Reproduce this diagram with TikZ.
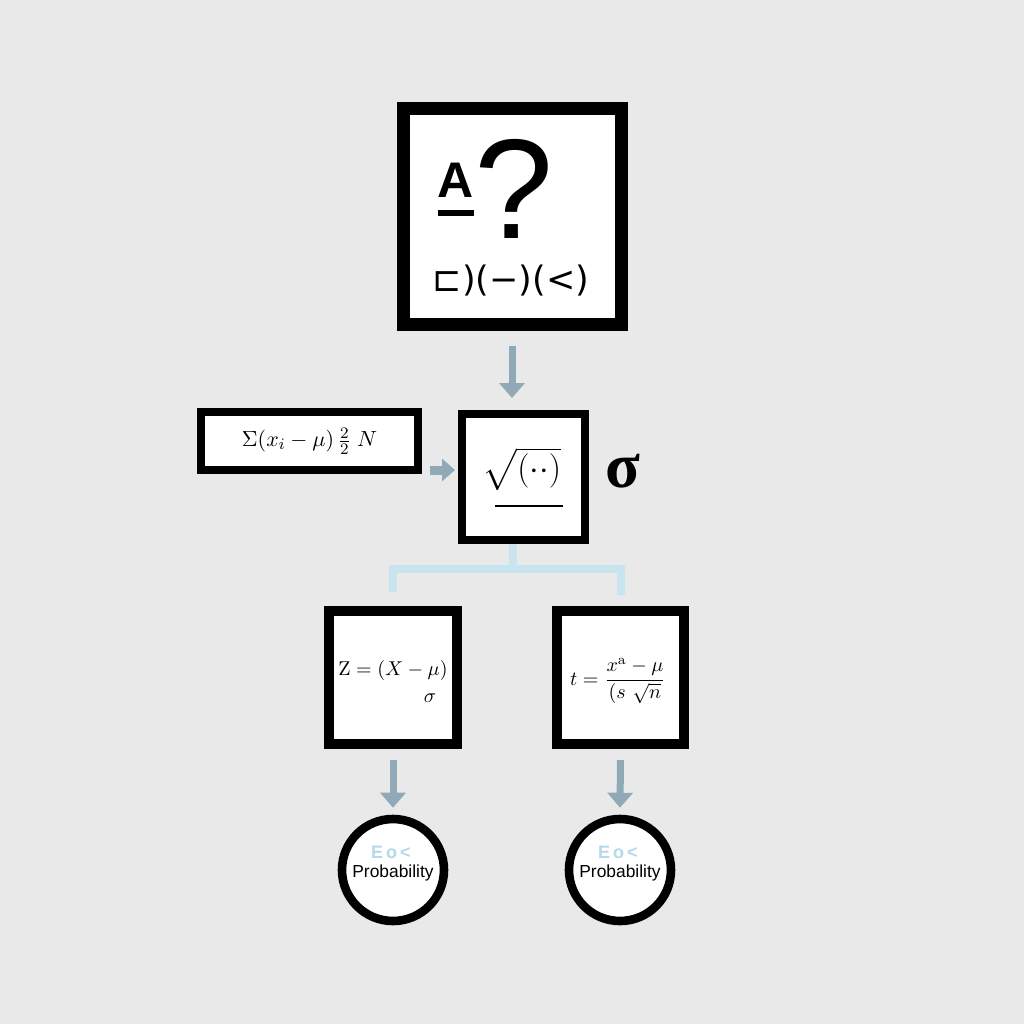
\documentclass[tikz,border=0pt]{standalone}
\usepackage{fontspec}
\usepackage{amsmath}
\newfontfamily\arialf{Liberation Sans}
\newfontfamily\dejavuf{DejaVu Sans}
\newfontfamily\lserif{Liberation Serif}
\usetikzlibrary{arrows.meta,calc}
\definecolor{bgc}{HTML}{E9E9E9}
\definecolor{arrowc}{HTML}{8FAAB6}
\definecolor{brc}{HTML}{C8E4EE}
\definecolor{iconc}{HTML}{B5D9E6}
\tikzset{
  box/.style={draw=black, fill=white, inner sep=0pt},
  arr/.style={draw=arrowc, line width=3.5pt, -{Triangle[width=12.5pt,length=7.5pt]}},
  arrtwo/.style={draw=arrowc, line width=4.5pt, -{Triangle[width=11pt,length=6.5pt]}},
  br/.style={draw=brc, line width=4pt},
  mtext/.style={inner sep=0pt, font=\fontsize{10}{12}\selectfont},
  circ/.style={circle, draw=black, fill=white, line width=4.3pt, minimum size=51pt, inner sep=0pt},
  prob/.style={inner sep=0pt, font=\arialf\fontsize{8.7}{9}\selectfont},
  icon/.style={inner sep=0pt, text=iconc, font=\arialf\bfseries\fontsize{9}{9}\selectfont},
}
\begin{document}
\begin{tikzpicture}[x=0.5pt,y=-0.5pt]
\fill[bgc] (0,0) rectangle (1024,1024);
\useasboundingbox (0,0) rectangle (1024,1024);

% top box
\node[box, line width=6.5pt, minimum width=109pt, minimum height=108pt] (top) at (512,216.5) {};
\node[inner sep=0pt, font=\arialf\bfseries\fontsize{25}{25}\selectfont] (a) at (456,180) {A};
\draw[line width=3pt] ([yshift=-7.5pt]a.south west) -- ([yshift=-7.5pt]a.south east);
\node[inner sep=0pt, font=\arialf\fontsize{71}{71}\selectfont] (q) at (514,189) {?};
\node[inner sep=0pt, font=\dejavuf\fontsize{17.5}{17.5}\selectfont] (sym) at (511,281) {⊏)(−)(<)};

% left formula box
\node[box, line width=4pt, minimum width=108.5pt, minimum height=29pt, font=\fontsize{11}{13}\selectfont] (lf) at (309.5,441) {$\Sigma(x_i - \mu)\,\frac{2}{2}\;N$};

% sqrt box
\node[box, line width=4pt, minimum width=61.5pt, minimum height=63pt] (sq) at (523.5,477) {};
\node[inner sep=0pt, font=\fontsize{16}{16}\selectfont] (sqt) at (522,469) {$\sqrt{(\cdot\cdot)}$};
\draw[line width=0.9pt] (495,506) -- (563,506);
\node[inner sep=0pt, font=\lserif\bfseries\fontsize{32}{32}\selectfont] (sig) at (623,471) {σ};

% connector bracket
\coordinate (bj) at (513,569);

% Z and t boxes
\node[box, line width=5pt, minimum width=64pt, minimum height=66.5pt] (zb) at (393,677.5) {};
\node[box, line width=5pt, minimum width=63.5pt, minimum height=66.5pt] (tb) at (620.5,677.5) {};
\node[mtext] (zf) at (393,670) {$\mathrm{Z} = (X - \mu)$};
\node[mtext] (zs) at (430,698) {$\sigma$};
\node[mtext] (tf) at (618,681) {$t = \dfrac{x^{\text{a}} - \mu}{(s\ \sqrt{n}}$};

\draw[br] (bj |- sq.south) -- (bj);
\draw[br] ([yshift=7pt]zb.north) |- (tb.north |- bj) -- ([yshift=5.5pt]tb.north);

% circles
\node[circ] (c1) at (393,870) {};
\node[circ] (c2) at (620,870) {};
\node[prob] (p1) at (393,873) {Probability};
\node[prob] (p2) at (620,873) {Probability};
\node[icon] (i1) at (391,852) {E\,o\,<};
\node[icon] (i2) at (618,852) {E\,o\,<};

% arrows
\draw[arr] ([yshift=-7.5pt]top.south) -- ($(top.south |- sq.north)+(0,-12)$);
\draw[arrtwo] ([xshift=4pt,yshift=-14.5pt]lf.east) -- ([xshift=-1.5pt,yshift=3.5pt]sq.west);
\draw[arr] ([yshift=-5.5pt]zb.south) -- ([yshift=3.5pt]c1.north);
\draw[arr] ([yshift=-5.5pt]tb.south) -- ([yshift=3.5pt]c2.north);
\end{tikzpicture}
\end{document}
